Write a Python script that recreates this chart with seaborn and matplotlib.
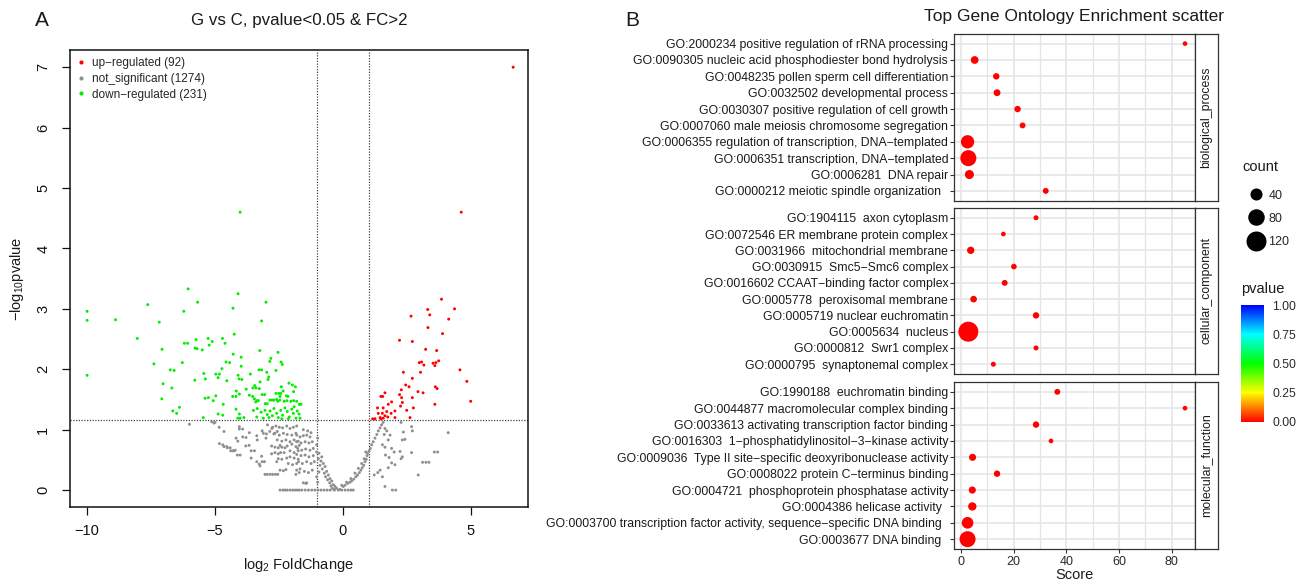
import matplotlib

matplotlib.use("Agg")
import matplotlib.pyplot as plt
import numpy as np
import pandas as pd
import seaborn as sns
from matplotlib.colors import LinearSegmentedColormap, Normalize
from matplotlib.lines import Line2D

sns.set_theme(style="ticks")
plt.rcParams["font.family"] = ["Liberation Sans", "DejaVu Sans"]
plt.rcParams["mathtext.fontset"] = "custom"
plt.rcParams["mathtext.rm"] = "Liberation Sans"
plt.rcParams["mathtext.it"] = "Liberation Sans:italic"

# ---------------------------------------------------------------------------
# Panel A data: volcano plot (a subset of genes)
# ---------------------------------------------------------------------------
FC_CUT = 1.0
P_CUT = 1.16
LEGEND_COUNTS = {"up": 92, "ns": 1274, "down": 231}

up_x = [6.65, 4.62, 3.85, 3.31, 4.36, 3.39, 2.66, 4.13, 3.32, 3.89, 2.21, 2.71,
        3.23, 3.66, 2.98, 3.07, 3.16, 3.52, 3.63, 3.74, 3.59, 4.57, 2.36, 3.03,
        4.84, 2.71, 2.45, 2.58, 3.61, 3.68, 2.28, 2.93, 3.13, 1.64, 2.21, 1.48,
        1.55, 2.29, 2.71, 4.99, 1.90, 2.32, 3.59, 1.77, 2.75, 2.49, 2.25, 2.03,
        1.88, 1.71, 1.57, 1.35, 1.38, 1.54, 1.64, 1.75, 1.45, 1.57, 1.25, 1.16,
        1.48, 2.62, 2.03]
up_y = [7.00, 4.60, 3.16, 2.99, 3.00, 2.90, 2.88, 2.83, 2.69, 2.59, 2.48, 2.46,
        2.33, 2.31, 2.11, 2.12, 2.07, 2.10, 2.11, 2.14, 2.06, 1.99, 1.95, 1.95,
        1.80, 1.85, 1.74, 1.71, 1.71, 1.68, 1.66, 1.63, 1.61, 1.61, 1.58, 1.55,
        1.55, 1.53, 1.53, 1.47, 1.46, 1.45, 1.42, 1.42, 1.36, 1.32, 1.39, 1.31,
        1.27, 1.30, 1.36, 1.36, 1.27, 1.27, 1.23, 1.21, 1.20, 1.19, 1.18, 1.18,
        1.18, 1.20, 1.20]

down_x = [-6.05, -5.68, -7.63, -10.0, -6.22, -10.0, -8.89, -7.18, -8.04, -5.74,
          -5.27, -5.11, -6.20, -6.07, -5.23, -5.78, -5.70, -5.50, -7.07, -6.28,
          -7.39, -6.75, -6.60, -10.0, -5.44, -4.97, -5.38, -5.79, -7.03, -6.69,
          -7.08, -5.39, -5.26, -4.97, -5.07, -4.02,
          -4.10, -3.01, -4.30, -3.18, -4.25, -4.71, -4.61, -3.25, -2.54, -4.29,
          -3.98, -2.82, -2.86, -4.57, -4.43, -2.42, -2.37, -3.98, -4.73, -3.28,
          -3.18, -2.98, -2.62, -4.83, -4.88, -4.10, -2.90, -4.06, -3.95, -2.93,
          -4.54, -3.62, -3.24, -2.11, -1.98, -3.45, -3.52, -3.40, -3.27, -1.86,
          -2.41, -4.17, -3.78, -2.34, -1.93, -4.05, -3.16, -3.06, -2.62, -2.51,
          -2.43, -3.66, -4.31, -4.18, -2.46, -2.21, -2.15, -3.53, -3.46, -3.31,
          -3.36, -3.41, -2.85, -2.77, -2.70, -2.59, -2.55, -2.47, -2.30, -2.19,
          -2.04, -1.93, -1.81, -4.68, -3.04, -2.96, -1.71, -1.64,
          -6.65, -6.50, -6.39, -5.46, -4.88, -4.70, -4.18, -4.05, -4.11, -4.02,
          -3.87, -3.50, -3.35, -3.20, -3.05, -2.96, -2.85, -2.76, -2.70, -2.59,
          -2.53, -2.43, -2.36, -2.27, -2.18, -2.10, -2.00, -1.94, -1.84, -1.79,
          -2.89, -3.37, -3.11, -2.39, -2.14, -1.91, -1.72, -1.68]
down_y = [3.33, 3.11, 3.07, 2.96, 2.96, 2.81, 2.82, 2.78, 2.51, 2.49,
          2.51, 2.46, 2.43, 2.43, 2.40, 2.35, 2.34, 2.32, 2.33, 2.11,
          2.09, 1.99, 1.98, 1.90, 1.93, 1.92, 1.84, 1.82, 1.76, 1.69,
          1.51, 1.52, 1.53, 1.56, 1.48, 4.60,
          3.25, 3.11, 3.01, 2.80, 2.58, 2.51, 2.43, 2.31, 2.28, 2.25,
          2.20, 2.18, 2.13, 2.12, 2.11, 2.12, 2.08, 2.05, 2.01, 1.99,
          1.99, 1.95, 1.98, 1.92, 1.86, 1.90, 1.87, 1.84, 1.83, 1.83,
          1.81, 1.92, 1.79, 1.77, 1.74, 1.73, 1.69, 1.69, 1.68, 1.71,
          1.71, 1.64, 1.67, 1.64, 1.63, 1.59, 1.58, 1.58, 1.60, 1.60,
          1.60, 1.57, 1.55, 1.55, 1.55, 1.56, 1.55, 1.55, 1.51, 1.48,
          1.48, 1.46, 1.49, 1.49, 1.49, 1.50, 1.47, 1.49, 1.47, 1.48,
          1.47, 1.48, 1.47, 1.42, 1.43, 1.43, 1.42, 1.42,
          1.31, 1.27, 1.37, 1.20, 1.26, 1.24, 1.34, 1.26, 1.19, 1.19,
          1.20, 1.32, 1.35, 1.29, 1.32, 1.25, 1.31, 1.23, 1.35, 1.27,
          1.20, 1.32, 1.24, 1.36, 1.30, 1.21, 1.34, 1.27, 1.19, 1.31,
          1.20, 1.21, 1.19, 1.18, 1.18, 1.38, 1.26, 1.19]

ns_x = [-6.00, -5.13, -5.00, -4.84, -4.65, -4.83, -4.65, -4.52, -4.41, -4.31,
        -4.21, -4.18, -4.11, -4.05, -3.92, -4.05, -4.13, -4.02, -3.92, -3.79,
        -3.66, -3.80, -3.67, -3.59, -3.46, -3.59, -3.37, -3.35, -3.37, -3.27,
        -3.16, -3.07, -3.24, -3.18, -3.16, -3.11, -3.01, -3.05, -2.96, -2.85,
        -2.75, -2.64, -2.55, -2.99, -2.86, -2.78, -2.70, -2.57, -2.59, -2.46,
        -2.33, -2.23, -2.79, -2.66, -2.53, -2.39, -2.27, -2.79, -2.66, -2.53,
        -2.44, -2.30, -2.53, -2.39, -2.20, -2.75, -2.62, -2.49, -2.36, -2.20,
        -2.07, -1.94, -1.81, -2.66, -2.49, -2.33, -2.18, -2.00, -1.84, -2.57,
        -2.39, -2.23, -2.07, -1.91, -1.75, -2.46, -2.18, -2.00, -1.84, -1.71,
        -2.07, -1.91, -1.75, -2.07, -1.91, -1.75, -2.14, -1.97, -1.81, -1.84,
        -1.81, -1.71, -2.95, -5.04, -4.70, -4.54, -4.39, -4.26, -1.55, -1.42,
        -1.81, -1.68, -1.55, -1.42, -1.29, -1.81, -1.64, -1.48, -1.33, -1.20,
        -1.77, -1.61, -1.46, -1.29, -1.16, -1.81, -1.64, -1.48, -1.33, -1.16,
        -1.74, -1.59, -1.42, -1.25, -1.12, -1.68, -1.51, -1.35, -1.20, -1.45,
        -1.55, -1.38, -1.25,
        -2.46, -2.35, -2.27, -2.18, -2.07, -1.97, -1.88, -1.79, -1.71, -1.61,
        -1.48, -1.35, -1.22, -1.10, -0.98, -0.86, -0.74, -0.62, -0.50, -0.34,
        -0.18, -0.05, 0.08, 0.20, 0.31, 0.40,
        -1.03, -0.94, -0.83, -0.96, -0.86, -0.77, -0.90, -0.70, -0.81, -0.64,
        -0.73, -0.57, -0.68, -0.51, -0.60, -0.44, -0.52, -0.38, -0.47, -0.31,
        -0.42, -0.25, -0.34, -0.12, -1.03, -0.99, -1.03, -0.99, -0.94,
        0.01, 0.08, 0.18, 0.27, 0.34, 0.42, 0.50, 0.57, 0.64, 0.70,
        0.75, 0.81, 0.86, 0.91, 0.94, 0.96, 1.02, 1.07, 1.12, 1.18,
        1.25, 1.32, 1.38, 1.45, 1.51, 1.57, -0.05, 0.14, 0.31, 0.47,
        0.60, 0.73, 0.83, 0.89,
        1.64, 1.71, 1.61, 1.84, 1.77, 1.54, 1.64, 1.90, 2.00, 1.66,
        1.80, 1.90, 1.77, 2.03, 2.27, 2.36, 2.32, 2.68, 2.71, 2.42,
        2.23, 2.27, 2.32, 2.68, 3.11, 3.24, 3.36, 3.57, 3.70, 2.94,
        1.93, 2.06, 1.22, 1.36, 1.45, 1.54, 1.64, 4.11]
ns_y = [1.09, 1.13, 1.12, 1.04, 0.97, 0.77, 0.72, 0.70, 0.70, 0.65,
        0.66, 0.86, 0.81, 1.05, 1.01, 1.01, 0.58, 0.58, 0.88, 0.87,
        0.95, 0.73, 0.74, 0.65, 0.65, 0.53, 0.90, 0.83, 0.47, 0.43,
        0.47, 0.47, 0.40, 0.56, 0.98, 0.94, 0.86, 0.26, 0.26, 0.26,
        0.26, 0.26, 0.26, 0.93, 0.97, 1.02, 0.93, 0.97, 0.47, 0.33,
        0.32, 0.34, 0.73, 0.71, 0.70, 0.71, 0.70, 0.60, 0.62, 0.60,
        0.62, 0.62, 0.52, 0.51, 0.53, 1.04, 1.06, 1.04, 1.03, 1.06,
        1.02, 1.04, 1.06, 0.94, 0.91, 0.94, 0.92, 0.91, 0.94, 0.83,
        0.81, 0.83, 0.80, 0.83, 0.81, 0.74, 0.73, 0.76, 0.72, 0.74,
        0.65, 0.62, 0.65, 0.55, 0.53, 0.51, 0.44, 0.42, 0.44, 0.26,
        0.33, 0.29, 1.08, 1.11, 0.75, 0.72, 0.65, 0.65, 0.12, 0.12,
        0.91, 0.88, 0.90, 0.91, 0.88, 0.80, 0.78, 0.80, 0.78, 0.80,
        0.69, 0.66, 0.68, 0.66, 0.69, 0.59, 0.57, 0.58, 0.55, 0.57,
        0.47, 0.44, 0.47, 0.44, 0.47, 0.35, 0.31, 0.29, 0.33, 0.11,
        1.00, 0.98, 0.95,
        0.00, 0.00, 0.00, 0.00, 0.00, 0.00, 0.00, 0.00, 0.00, 0.00,
        0.00, 0.00, 0.00, 0.00, 0.00, 0.00, 0.00, 0.00, 0.00, 0.00,
        0.00, 0.00, 0.00, 0.00, 0.00, 0.00,
        0.63, 0.61, 0.55, 0.52, 0.48, 0.44, 0.41, 0.39, 0.35, 0.31,
        0.28, 0.25, 0.22, 0.19, 0.17, 0.15, 0.12, 0.09, 0.07, 0.06,
        0.03, 0.03, 0.01, 0.01, 0.75, 0.86, 0.22, 0.13, 0.30,
        0.06, 0.08, 0.11, 0.13, 0.15, 0.18, 0.22, 0.25, 0.29, 0.33,
        0.37, 0.41, 0.47, 0.51, 0.57, 0.61, 0.65, 0.69, 0.75, 0.80,
        0.86, 0.92, 0.98, 1.03, 1.08, 1.12, 0.08, 0.13, 0.19, 0.28,
        0.36, 0.44, 0.52, 0.63,
        1.02, 0.98, 0.92, 0.91, 0.83, 0.75, 0.71, 0.69, 0.63, 0.58,
        0.54, 0.45, 0.37, 0.42, 1.12, 0.96, 0.83, 1.05, 0.98, 0.84,
        0.64, 0.52, 0.55, 0.62, 0.46, 0.46, 0.46, 0.63, 0.63, 0.25,
        0.00, 0.00, 0.25, 0.29, 0.33, 0.22, 0.06, 0.95]

# ---------------------------------------------------------------------------
# Panel B data: GO enrichment
# ---------------------------------------------------------------------------
CATEGORIES = ["biological_process", "cellular_component", "molecular_function"]

bp_terms = [
    "GO:2000234 positive regulation of rRNA processing",
    "GO:0090305 nucleic acid phosphodiester bond hydrolysis",
    "GO:0048235 pollen sperm cell differentiation",
    "GO:0032502 developmental process",
    "GO:0030307 positive regulation of cell growth",
    "GO:0007060 male meiosis chromosome segregation",
    "GO:0006355 regulation of transcription, DNA\u2212templated",
    "GO:0006351 transcription, DNA\u2212templated",
    "GO:0006281  DNA repair",
    "GO:0000212 meiotic spindle organization  ",
]
bp_score = [85.1, 5.2, 13.4, 13.7, 21.5, 23.4, 2.5, 2.8, 3.2, 32.2]
bp_count = [1, 13, 7, 9, 7, 5, 50, 75, 20, 5]
bp_pvalue = [0.004, 0.003, 0.002, 0.003, 0.002, 0.004, 0.001, 0.001, 0.002, 0.003]

cc_terms = [
    "GO:1904115  axon cytoplasm",
    "GO:0072546 ER membrane protein complex",
    "GO:0031966  mitochondrial membrane",
    "GO:0030915  Smc5\u2212Smc6 complex",
    "GO:0016602 CCAAT\u2212binding factor complex",
    "GO:0005778  peroxisomal membrane",
    "GO:0005719 nuclear euchromatin",
    "GO:0005634  nucleus",
    "GO:0000812  Swr1 complex",
    "GO:0000795  synaptonemal complex",
]
cc_score = [28.5, 16.1, 3.7, 20.1, 16.6, 4.8, 28.5, 2.8, 28.5, 12.3]
cc_count = [2, 1, 11, 4, 5, 8, 7, 120, 2, 2]
cc_pvalue = [0.004, 0.004, 0.003, 0.002, 0.003, 0.002, 0.003, 0.001, 0.004, 0.004]

mf_terms = [
    "GO:1990188  euchromatin binding",
    "GO:0044877 macromolecular complex binding",
    "GO:0033613 activating transcription factor binding",
    "GO:0016303  1\u2212phosphatidylinositol\u22123\u2212kinase activity",
    "GO:0009036  Type II site\u2212specific deoxyribonuclease activity",
    "GO:0008022 protein C\u2212terminus binding",
    "GO:0004721  phosphoprotein phosphatase activity",
    "GO:0004386 helicase activity  ",
    "GO:0003700 transcription factor activity, sequence\u2212specific DNA binding  ",
    "GO:0003677 DNA binding  ",
]
mf_score = [36.6, 85.1, 28.5, 34.2, 4.4, 13.7, 4.3, 4.3, 2.5, 2.5]
mf_count = [5, 1, 7, 1, 10, 7, 10, 16, 37, 75]
mf_pvalue = [0.003, 0.004, 0.002, 0.004, 0.002, 0.003, 0.002, 0.002, 0.001, 0.001]

SIZE_LEGEND = [40, 80, 120]
PV_TICKS = [0.0, 0.25, 0.5, 0.75, 1.0]
SIZE_RANGE = (11.4, 207.0)  # marker area in pt^2
SIZE_NORM = (1, 120)

# ---------------------------------------------------------------------------
W, H = 1307, 583
fig = plt.figure(figsize=(W / 100, H / 100), dpi=100)
fig.patch.set_facecolor("white")


def fx(px):
    return px / W


def fy(py):
    return 1 - py / H


TXT = "#1a1a1a"

# ----------------------------- panel A -------------------------------------
axA = fig.add_axes([fx(69.7), fy(507), fx(528) - fx(69.7), fy(50.3) - fy(507)])

volcano = pd.concat(
    [
        pd.DataFrame({"log2fc": ns_x, "nlog10p": ns_y, "group": "ns"}),
        pd.DataFrame({"log2fc": up_x, "nlog10p": up_y, "group": "up"}),
        pd.DataFrame({"log2fc": down_x, "nlog10p": down_y, "group": "down"}),
    ],
    ignore_index=True,
)
group_colors = {"up": "#ff0000", "ns": "#8f8f8f", "down": "#00ee00"}
sns.scatterplot(
    data=volcano, x="log2fc", y="nlog10p", hue="group",
    hue_order=["ns", "up", "down"], palette=group_colors,
    s=4.5, linewidth=0, legend=False, ax=axA, zorder=3,
)
dot = (0, (1, 1.2))
axA.axvline(-FC_CUT, color="#444444", lw=0.9, ls=dot, zorder=2)
axA.axvline(FC_CUT, color="#444444", lw=0.9, ls=dot, zorder=2)
axA.axhline(P_CUT, color="#444444", lw=0.9, ls=dot, zorder=2)

axA.set_xlim(-10.68, 7.23)
axA.set_ylim(-0.28, 7.28)
axA.set_xticks([-10, -5, 0, 5])
axA.set_xticklabels(["\u221210", "\u22125", "0", "5"])
axA.set_yticks(range(8))
axA.tick_params(axis="both", labelsize=10.5, length=6, width=0.9,
                colors="#111111", direction="out")
axA.tick_params(axis="x", pad=6)
axA.tick_params(axis="y", labelrotation=90, pad=8)
for lab in axA.get_yticklabels():
    lab.set_va("center")
for sp in axA.spines.values():
    sp.set_color("#111111")
    sp.set_linewidth(1.1)
axA.set_xlabel("log$_2$ FoldChange", fontsize=10.5, color=TXT)
axA.xaxis.set_label_coords(0.5, -0.108)
axA.set_ylabel("\u2212log$_{10}$pvalue", fontsize=10.5, color=TXT)
axA.yaxis.set_label_coords(-0.095, 0.5)

labels_A = [
    f"up\u2212regulated ({LEGEND_COUNTS['up']})",
    f"not_significant ({LEGEND_COUNTS['ns']})",
    f"down\u2212regulated ({LEGEND_COUNTS['down']})",
]
handles_A = [
    Line2D([], [], ls="", marker="o", ms=3, mew=0, color=group_colors[g])
    for g in ["up", "ns", "down"]
]
axA.legend(handles_A, labels_A, loc="upper left", frameon=False, fontsize=8.5,
           borderaxespad=0.0, borderpad=0.55, handlelength=0.8,
           handletextpad=0.5, labelspacing=0.33)

fig.text(fx(299), fy(20), "G vs C, pvalue<0.05 & FC>2", fontsize=12.2,
         ha="center", va="center", color=TXT)
fig.text(fx(42), fy(21), "A", fontsize=15, ha="center", va="center", color=TXT)

# ----------------------------- panel B -------------------------------------
go = pd.concat(
    [
        pd.DataFrame({"term": t, "score": s, "count": c, "pvalue": p, "category": cat})
        for t, s, c, p, cat in [
            (bp_terms, bp_score, bp_count, bp_pvalue, CATEGORIES[0]),
            (cc_terms, cc_score, cc_count, cc_pvalue, CATEGORIES[1]),
            (mf_terms, mf_score, mf_count, mf_pvalue, CATEGORIES[2]),
        ]
    ],
    ignore_index=True,
)

cmap = LinearSegmentedColormap.from_list(
    "pv", ["#ff0000", "#ffff00", "#00ff00", "#00ffff", "#0000ff"]
)
rows_px = [(33.8, 200.7), (208.0, 374.0), (382.0, 549.0)]
PL, PR, SR = 954, 1195, 1218
GRID = "#e4e4e4"
EDGE = "#333333"

for i, (cat, (top, bot)) in enumerate(zip(CATEGORIES, rows_px)):
    ax = fig.add_axes([fx(PL), fy(bot), fx(PR) - fx(PL), fy(top) - fy(bot)])
    sub = go[go["category"] == cat]
    ax.set_axisbelow(True)
    sns.scatterplot(
        data=sub, x="score", y="term", size="count", sizes=SIZE_RANGE,
        size_norm=SIZE_NORM, hue="pvalue", palette=cmap, hue_norm=(0, 1),
        linewidth=0, legend=False, ax=ax, zorder=3,
    )
    n = len(sub)
    ax.set_ylim(n - 0.4, -0.6)
    ax.set_xlim(-2.65, 88.9)
    ax.set_xticks([0, 20, 40, 60, 80])
    ax.set_xticks([10, 30, 50, 70], minor=True)
    ax.grid(True, which="major", color=GRID, lw=1.1)
    ax.grid(True, which="minor", axis="x", color=GRID, lw=0.9)
    ax.set_ylabel("")
    ax.tick_params(axis="y", labelsize=8.8, length=3, width=0.8, color=EDGE,
                   pad=1.2, labelcolor=TXT)
    ax.tick_params(axis="x", which="minor", length=0)
    if i < 2:
        ax.tick_params(axis="x", which="major", length=0, labelbottom=False)
        ax.set_xlabel("")
    else:
        ax.tick_params(axis="x", which="major", length=3, width=0.8, color=EDGE,
                       labelsize=9, pad=2, labelcolor="#2a2a2a")
        ax.set_xlabel("Score", fontsize=10.5, color=TXT, labelpad=0)
    for sp in ax.spines.values():
        sp.set_color(EDGE)
        sp.set_linewidth(0.9)

    sax = fig.add_axes([fx(PR), fy(bot), fx(SR) - fx(PR), fy(top) - fy(bot)])
    sax.set_xticks([])
    sax.set_yticks([])
    sax.set_facecolor("white")
    for sp in sax.spines.values():
        sp.set_color(EDGE)
        sp.set_linewidth(0.9)
    sax.text(0.5, 0.5, cat, rotation=90, ha="center", va="center",
             fontsize=8.8, color=TXT, transform=sax.transAxes)

fig.text(fx(1074), fy(16.5), "Top Gene Ontology Enrichment scatter",
         fontsize=12.5, ha="center", va="center", color=TXT)
fig.text(fx(632), fy(21), "B", fontsize=15, ha="center", va="center", color=TXT)

# size legend
fig.text(fx(1242), fy(167), "count", fontsize=10.5, ha="left", va="center", color=TXT)


def marker_area(c):
    lo, hi = SIZE_NORM
    return SIZE_RANGE[0] + (SIZE_RANGE[1] - SIZE_RANGE[0]) * (c - lo) / (hi - lo)


size_handles = [
    Line2D([], [], ls="", marker="o", mew=0, color="black",
           ms=np.sqrt(marker_area(c)))
    for c in SIZE_LEGEND
]
fig.legend(size_handles, [str(c) for c in SIZE_LEGEND], loc="upper left",
           bbox_to_anchor=(fx(1245.7), fy(189.5)), frameon=False, fontsize=9,
           borderaxespad=0, borderpad=0, handlelength=1.6, handletextpad=0.2,
           labelspacing=0.9)

# colour bar
fig.text(fx(1241), fy(289), "pvalue", fontsize=10.5, ha="left", va="center", color=TXT)
cax = fig.add_axes([fx(1241), fy(422), fx(1264) - fx(1241), fy(305) - fy(422)])
sm = plt.cm.ScalarMappable(norm=Normalize(0, 1), cmap=cmap)
cb = fig.colorbar(sm, cax=cax, ticks=PV_TICKS)
cb.outline.set_visible(False)
cb.ax.set_yticklabels([f"{t:.2f}" for t in PV_TICKS])
cb.ax.yaxis.set_ticks_position("both")
cb.ax.tick_params(direction="in", color="white", length=4, width=0.8,
                  labelsize=8.8, pad=6, labelcolor="#2a2a2a",
                  labelleft=False, labelright=True)

fig.savefig("out.png", dpi=100, facecolor="white")
